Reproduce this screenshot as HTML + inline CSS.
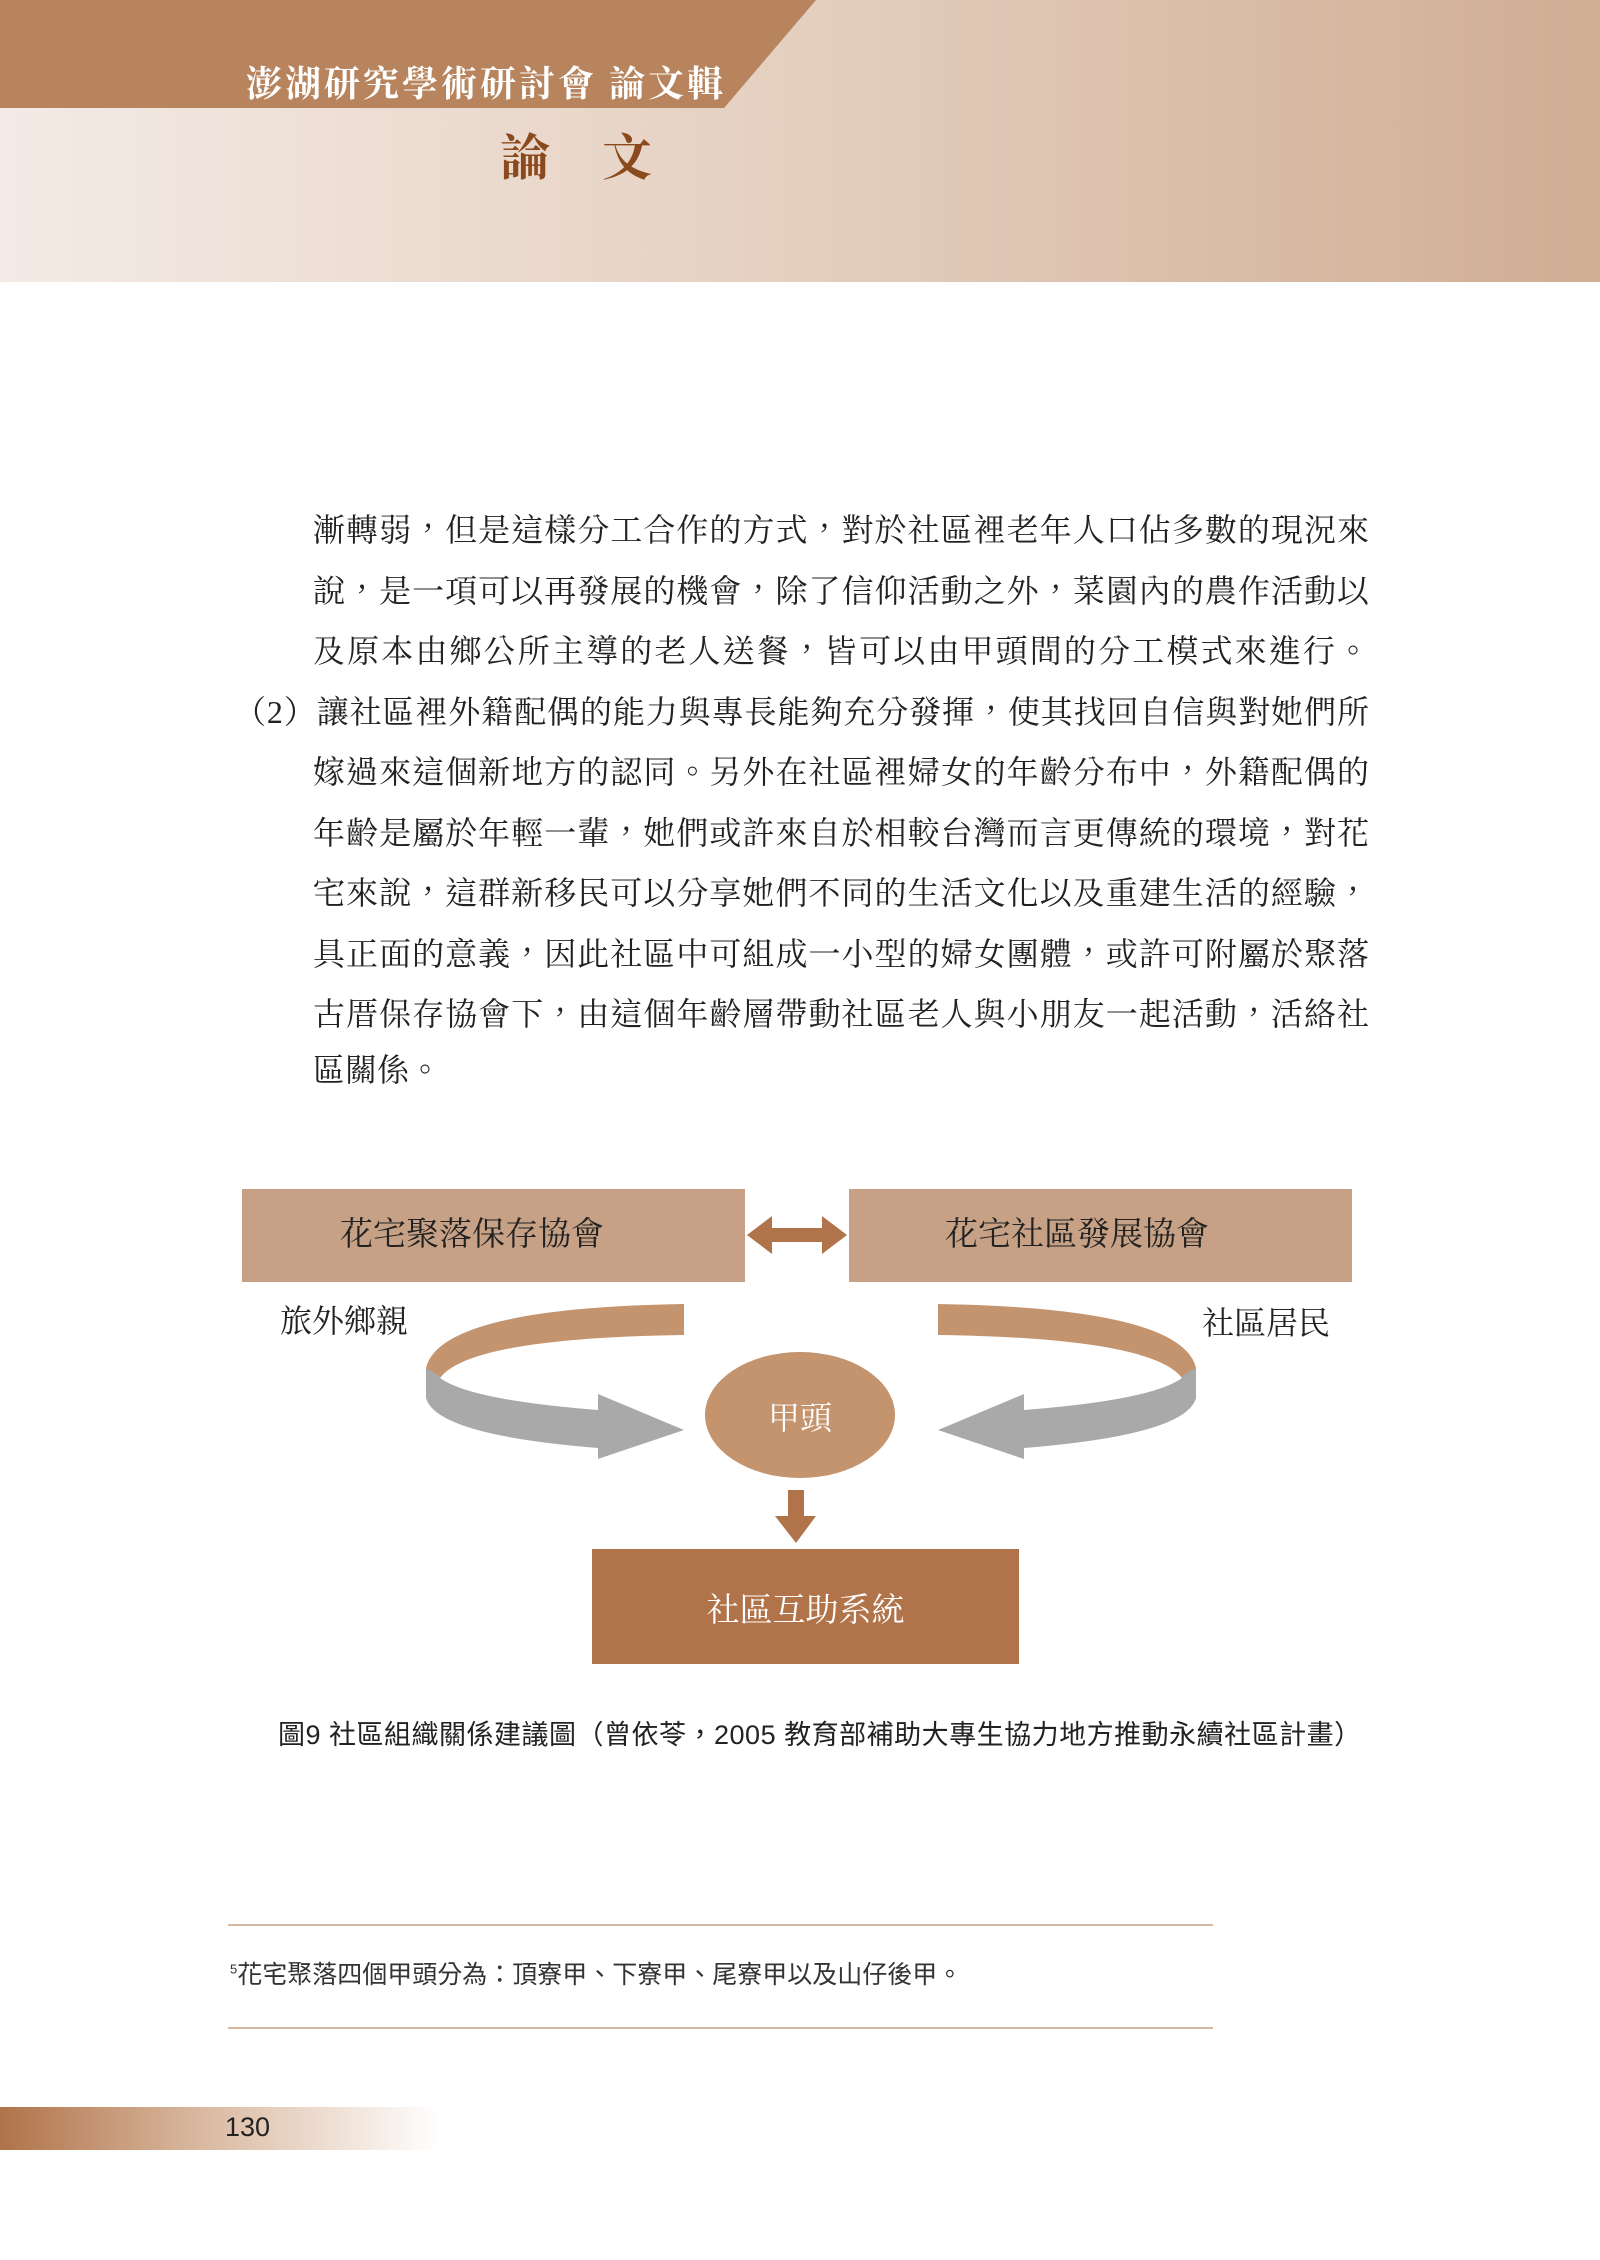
<!DOCTYPE html>
<html><head><meta charset="utf-8"><style>
body{margin:0;width:1600px;height:2260px;position:relative;background:#fff;overflow:hidden;font-family:"Liberation Serif","Noto Serif CJK SC",serif}
.a{position:absolute}
.hdr{left:0;top:0;width:1600px;height:282px;background:linear-gradient(90deg,#f4ebe6 0%,#e6d2c3 45%,#d0ad93 100%)}
.line{position:absolute;left:313px;width:1056px;font-size:32px;line-height:40px;color:#222;text-align:justify;text-align-last:justify;white-space:nowrap;font-family:"Liberation Serif","Noto Serif CJK TC",serif}
</style></head><body>
<div class="a hdr"></div>
<svg class="a" style="left:0;top:0" width="1600" height="300">
<polygon points="0,0 816,0 724,108 0,108" fill="#b7845e"/>
</svg>
<div class="a" style="left:246px;top:56px;font-size:36px;font-weight:bold;color:#fff;font-family:'Noto Serif CJK TC',serif;letter-spacing:3px">澎湖研究學術研討會&nbsp;論文輯</div>
<div class="a" style="left:500px;top:118px;font-size:50px;font-weight:bold;color:#8b4a1e;font-family:'Noto Serif CJK TC',serif;letter-spacing:52px">論文</div>

<div class="line" style="top:510px">漸轉弱，但是這樣分工合作的方式，對於社區裡老年人口佔多數的現況來</div>
<div class="line" style="top:571px">說，是一項可以再發展的機會，除了信仰活動之外，菜園內的農作活動以</div>
<div class="line" style="top:631px">及原本由鄉公所主導的老人送餐，皆可以由甲頭間的分工模式來進行。</div>
<div class="line" style="top:692px;left:234px;width:1135px">（2）讓社區裡外籍配偶的能力與專長能夠充分發揮，使其找回自信與對她們所</div>
<div class="line" style="top:752px">嫁過來這個新地方的認同。另外在社區裡婦女的年齡分布中，外籍配偶的</div>
<div class="line" style="top:813px">年齡是屬於年輕一輩，她們或許來自於相較台灣而言更傳統的環境，對花</div>
<div class="line" style="top:873px">宅來說，這群新移民可以分享她們不同的生活文化以及重建生活的經驗，</div>
<div class="line" style="top:934px">具正面的意義，因此社區中可組成一小型的婦女團體，或許可附屬於聚落</div>
<div class="line" style="top:994px">古厝保存協會下，由這個年齡層帶動社區老人與小朋友一起活動，活絡社</div>
<div class="line" style="top:1050px;text-align-last:left">區關係。</div>

<svg class="a" style="left:0;top:0" width="1600" height="2260">
<rect x="242" y="1189" width="503" height="93" fill="#c7a185"/>
<rect x="849" y="1189" width="503" height="93" fill="#c7a185"/>
<polygon points="747,1235 772,1216 772,1228 822,1228 822,1216 847,1235 822,1254 822,1242 772,1242 772,1254" fill="#b0734a"/>
<ellipse cx="800" cy="1415" rx="95" ry="63" fill="#c4946f"/>
<polygon points="788,1490 804,1490 804,1516 816,1516 796,1543 775,1516 788,1516" fill="#b0734a"/>
<rect x="592" y="1549" width="427" height="115" fill="#b0734a"/>
<g id="L">
<path d="M684,1304 L684,1335 Q470,1338 440,1378 L426,1380 L426,1368 Q440,1308 684,1304 Z" fill="#c4946f"/>
<path d="M426,1368 Q440,1375 440,1378 Q470,1400 598,1410 L598,1394 L684,1430 L598,1459 L598,1448 Q436,1435 426,1398 Z" fill="#a9a9a9"/>
</g>
<use href="#L" transform="translate(1622,0) scale(-1,1)"/>
</svg>
<div class="a" style="left:242px;top:1189px;width:460px;height:93px;line-height:93px;text-align:center;font-size:33px;color:#222">花宅聚落保存協會</div>
<div class="a" style="left:849px;top:1189px;width:456px;height:93px;line-height:93px;text-align:center;font-size:33px;color:#222">花宅社區發展協會</div>
<div class="a" style="left:280px;top:1296px;font-size:32px;color:#222">旅外鄉親</div>
<div class="a" style="left:1202px;top:1298px;font-size:32px;color:#222">社區居民</div>
<div class="a" style="left:705px;top:1393px;width:190px;text-align:center;font-size:32px;color:#fff">甲頭</div>
<div class="a" style="left:592px;top:1584px;width:427px;text-align:center;font-size:33px;color:#fff">社區互助系統</div>
<div class="a" style="left:278px;top:1713px;font-size:27px;color:#222;font-family:'Liberation Sans','Noto Sans CJK TC',sans-serif;white-space:nowrap;letter-spacing:0.5px">圖9 社區組織關係建議圖（曾依苓，2005 教育部補助大專生協力地方推動永續社區計畫）</div>

<div class="a" style="left:228px;top:1924px;width:985px;height:2px;background:#d6b9a3"></div>
<div class="a" style="left:230px;top:1955px;font-size:25px;color:#333;font-family:'Liberation Sans','Noto Sans CJK TC',sans-serif"><sup style="font-size:13px">5</sup>花宅聚落四個甲頭分為：頂寮甲、下寮甲、尾寮甲以及山仔後甲。</div>
<div class="a" style="left:228px;top:2027px;width:985px;height:2px;background:#d6b9a3"></div>

<div class="a" style="left:0;top:2107px;width:440px;height:43px;background:linear-gradient(90deg,#b0734a 0%,#d9b89f 45%,#fff 100%)"></div>
<div class="a" style="left:225px;top:2112px;font-size:27px;color:#222;font-family:'Liberation Sans',sans-serif">130</div>
</body></html>
